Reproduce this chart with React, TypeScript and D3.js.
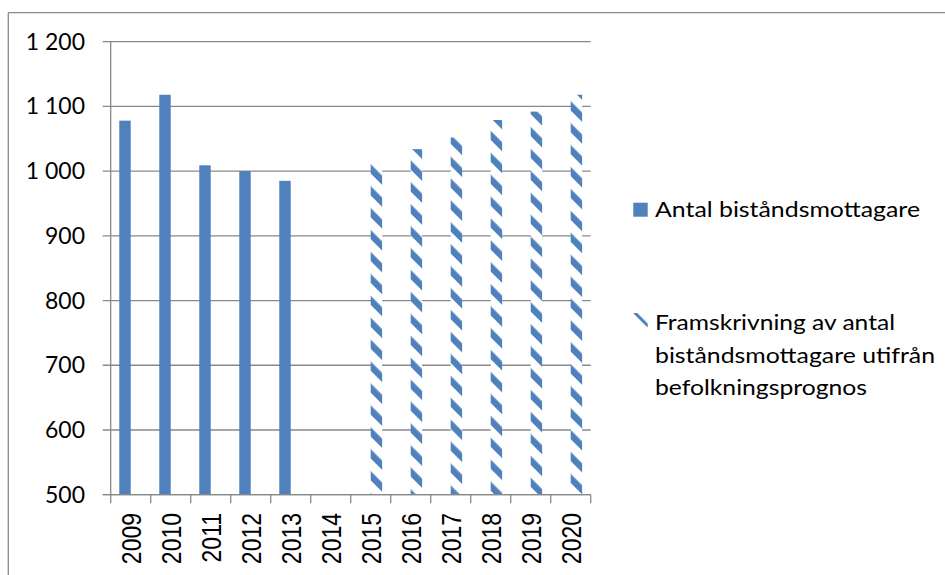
import React from 'react';
import * as d3 from 'd3';

const YEARS = ['2009', '2010', '2011', '2012', '2013', '2014', '2015', '2016', '2017', '2018', '2019', '2020'];
const ACTUAL = [1078, 1118, 1009, 1000, 985, null, null, null, null, null, null, null];
const PROJECTED = [null, null, null, null, null, null, 1013, 1034, 1052, 1079, 1092, 1118];
const Y_TICKS = [500, 600, 700, 800, 900, 1000, 1100, 1200];
const SERIES = ['Antal biståndsmottagare', 'Framskrivning av antal biståndsmottagare utifrån befolkningsprognos'];
const LEGEND_LINES = ['Framskrivning av antal', 'biståndsmottagare utifrån', 'befolkningsprognos'];

const BLUE = '#4f81bd';
const GRID = '#898989';

const svLocale = d3.formatLocale({ decimal: ',', thousands: '\u00a0', grouping: [3], currency: ['', ' kr'] });
const fmt = svLocale.format(',');

export default function App() {
  const left = 110.7;
  const right = 590.7;
  const top = 41.7;
  const bottom = 494.7;

  const x = d3.scaleBand<string>().domain(YEARS).range([left, right]).padding(0);
  const inner = d3.scaleBand<string>().domain(SERIES).range([0, x.bandwidth()]).paddingInner(0).paddingOuter(0.75);
  const y = d3.scaleLinear().domain([500, 1200]).range([bottom, top]);

  const bars = (vals: (number | null)[], s: string, fill: string) =>
    vals.map((v, i) =>
      v == null ? null : (
        <rect
          key={s + i}
          x={(x(YEARS[i]) ?? 0) + (inner(s) ?? 0)}
          y={y(v)}
          width={inner.bandwidth()}
          height={bottom - y(v)}
          fill={fill}
        />
      )
    );

  return (
    <svg
      width={945}
      height={575}
      style={{ position: 'absolute', left: 0, top: 0, background: '#fff' }}
    >
      <defs>
        <pattern id="hatch" patternUnits="userSpaceOnUse" width={15.5} height={20} patternTransform="rotate(-45)">
          <rect x={0} y={0} width={15.5} height={20} fill="#fff" />
          <rect x={0} y={0} width={6.5} height={20} fill={BLUE} />
        </pattern>
        <pattern id="hatchLegend" patternUnits="userSpaceOnUse" width={15.5} height={20} patternTransform="translate(633,313) rotate(-45)">
          <rect x={0} y={0} width={15.5} height={20} fill="#fff" />
          <rect x={-2} y={0} width={5} height={20} fill={BLUE} />
        </pattern>
      </defs>

      {/* outer chart border */}
      <line x1={8.3} y1={12.7} x2={945} y2={12.7} stroke={GRID} strokeWidth={1.3} />
      <line x1={8.3} y1={12.7} x2={8.3} y2={575} stroke={GRID} strokeWidth={1.3} />

      {/* gridlines */}
      {Y_TICKS.map((t) => (
        <line key={'g' + t} x1={left - 8} x2={right} y1={y(t)} y2={y(t)} stroke={GRID} strokeWidth={1.3} />
      ))}

      {bars(ACTUAL, SERIES[0], BLUE)}
      {bars(PROJECTED, SERIES[1], 'url(#hatch)')}

      {/* y axis */}
      <line x1={left} x2={left} y1={top} y2={bottom} stroke={GRID} strokeWidth={1.3} />
      {Y_TICKS.map((t) => (
        <text
          key={'yl' + t}
          x={85}
          y={y(t)}
          dy="0.35em"
          textAnchor="end"
          fontFamily="Lato, 'Open Sans', sans-serif"
          fontSize={23}
          fill="#000"
        >
          {fmt(t)}
        </text>
      ))}

      {/* x axis */}
      <line x1={left - 8} x2={right} y1={bottom} y2={bottom} stroke={GRID} strokeWidth={1.3} />
      {[...YEARS.map((d) => x(d) ?? 0), right].map((px, i) => (
        <line key={'xt' + i} x1={px} x2={px} y1={bottom} y2={bottom + 8.5} stroke={GRID} strokeWidth={1.3} />
      ))}
      {YEARS.map((d) => {
        const cx = (x(d) ?? 0) + x.bandwidth() / 2 + 1;
        return (
          <text
            key={'xl' + d}
            transform={`translate(${cx},513) rotate(-90) scale(1,1.2)`}
            dy="0.35em"
            textAnchor="end"
            fontFamily="'Liberation Sans', Arial, sans-serif"
            fontSize={23}
            fill="#000"
          >
            {d}
          </text>
        );
      })}

      {/* legend */}
      <rect x={633.3} y={202.7} width={14.4} height={14} fill={BLUE} />
      <text x={655} y={217} fontFamily="Lato, 'Open Sans', sans-serif" fontSize={22} fill="#000" textLength={265} lengthAdjust="spacingAndGlyphs">
        {SERIES[0]}
      </text>
      <rect x={633.3} y={313} width={14.4} height={14} fill="url(#hatchLegend)" />
      {LEGEND_LINES.map((l, i) => {
        const widths = [240, 280, 212];
        return (
          <text
            key={l}
            x={655}
            y={330 + i * 32.5}
            fontFamily="Lato, 'Open Sans', sans-serif"
            fontSize={22}
            fill="#000"
            textLength={widths[i]}
            lengthAdjust="spacingAndGlyphs"
          >
            {l}
          </text>
        );
      })}
    </svg>
  );
}
